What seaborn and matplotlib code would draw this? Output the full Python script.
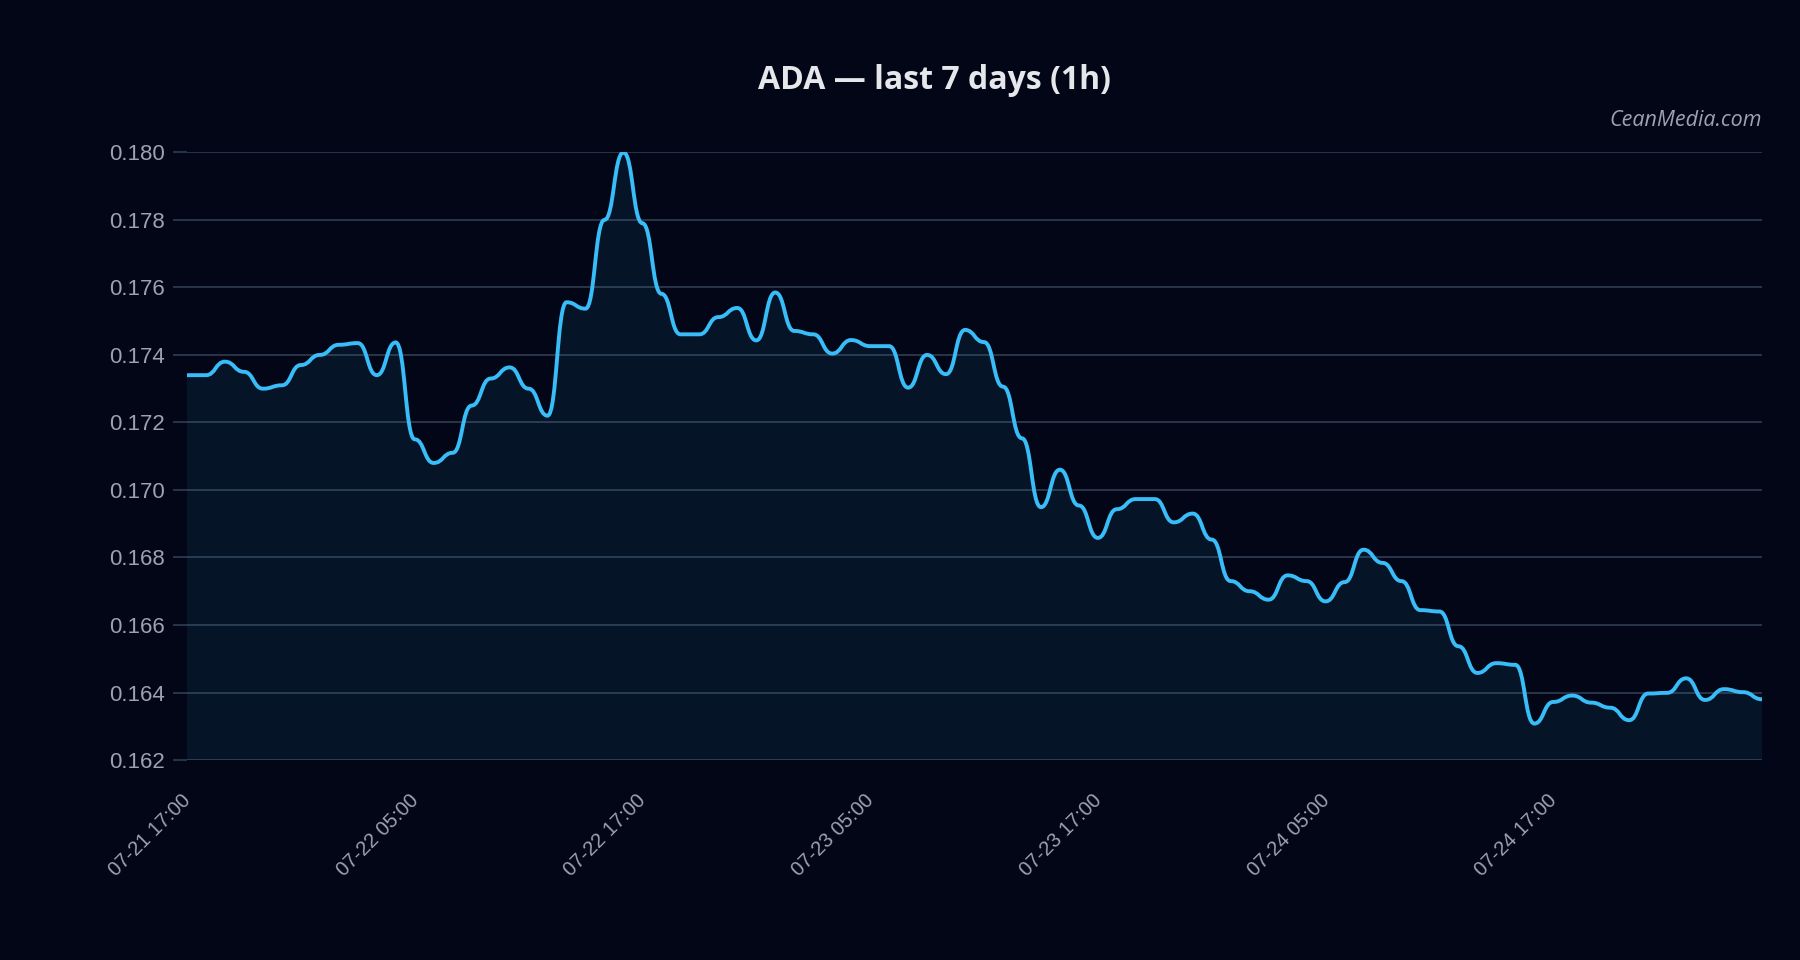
# Libraries
# =====================================================================
import numpy as np
import matplotlib
matplotlib.use("Agg")
import matplotlib.pyplot as plt
from matplotlib.path import Path
from matplotlib.patches import PathPatch
from matplotlib.transforms import ScaledTranslation
import seaborn as sns

# Data (ADA hourly close, 07-21 17:00 -> 07-25 04:00)
# =====================================================================
hours = np.arange(84)
price = [
    0.1734, 0.1734, 0.1738, 0.1735, 0.1730, 0.1731, 0.1737, 0.1740, 0.1743, 0.17435,
    0.1734, 0.17437, 0.1715, 0.1708, 0.1711, 0.1725, 0.1733, 0.17363, 0.1730, 0.1722,
    0.17556, 0.17537, 0.1780, 0.1800, 0.1779, 0.17581, 0.17461, 0.17461, 0.17512, 0.17539,
    0.17443, 0.17585, 0.17471, 0.17461, 0.17404, 0.17444, 0.17426, 0.17426, 0.17303, 0.1740,
    0.17343, 0.17474, 0.17438, 0.17306, 0.17153, 0.16949, 0.1706, 0.16954, 0.16858, 0.16943,
    0.16973, 0.16973, 0.16904, 0.1693, 0.16853, 0.1673, 0.1670, 0.16675, 0.16747, 0.1673,
    0.1667, 0.16727, 0.16823, 0.16784, 0.1673, 0.16644, 0.1664, 0.16537, 0.16458, 0.16487,
    0.16482, 0.16308, 0.16372, 0.16391, 0.16370, 0.16355, 0.16318, 0.16397, 0.16399, 0.16442,
    0.16378, 0.16410, 0.16401, 0.16380,
]
tick_hours = [0, 12, 24, 36, 48, 60, 72]
tick_labels = ['07-21 17:00', '07-22 05:00', '07-22 17:00', '07-23 05:00',
               '07-23 17:00', '07-24 05:00', '07-24 17:00']
y_ticks = [0.162, 0.164, 0.166, 0.168, 0.170, 0.172, 0.174, 0.176, 0.178, 0.180]

# Colors
bg = '#020617'
line_color = '#38bdf8'
grid_color = '#334155'
text_grey = '#9ca3af'


# Smooth "step" curve: flat tangent at every point, bezier between points
# =====================================================================
def smooth_path(x, y, base=None, k=0.5):
    verts, codes = [], []
    if base is not None:
        verts += [(x[0], base), (x[0], y[0])]
        codes += [Path.MOVETO, Path.LINETO]
    else:
        verts.append((x[0], y[0]))
        codes.append(Path.MOVETO)
    for i in range(len(x) - 1):
        dx = (x[i + 1] - x[i]) * k
        verts += [(x[i] + dx, y[i]), (x[i + 1] - dx, y[i + 1]), (x[i + 1], y[i + 1])]
        codes += [Path.CURVE4] * 3
    if base is not None:
        verts += [(x[-1], base), (x[0], base)]
        codes += [Path.LINETO, Path.CLOSEPOLY]
    return Path(verts, codes)


# Data Visualization
# =====================================================================
sns.set_theme(style="dark", rc={
    'figure.facecolor': bg,
    'axes.facecolor': bg,
    'savefig.facecolor': bg,
})
plt.rcParams['font.family'] = ['Liberation Sans', 'DejaVu Sans']

fig = plt.figure(figsize=(18, 9.6), dpi=100)
ax = fig.add_axes([0.1039, 0.2083, 0.875, 0.633])

ymin, ymax = y_ticks[0], y_ticks[-1]

# Area under the curve and the line itself
ax.add_patch(PathPatch(smooth_path(hours, price, base=ymin),
                       facecolor=line_color, alpha=0.08, edgecolor='none', zorder=2))
ax.add_patch(PathPatch(smooth_path(hours, price), facecolor='none',
                       edgecolor=line_color, linewidth=2.8, capstyle='round',
                       joinstyle='round', zorder=3))

ax.set_xlim(hours[0], hours[-1])
ax.set_ylim(ymin, ymax)

# Grid and ticks
ax.set_yticks(y_ticks)
ax.set_yticklabels([f'{v:.3f}' for v in y_ticks])
ax.set_xticks(tick_hours)
ax.set_xticklabels(tick_labels, rotation=45, ha='right', va='top', rotation_mode='anchor')
ax.yaxis.grid(True, color=grid_color, linewidth=1.1)
ax.xaxis.grid(False)
ax.set_axisbelow(True)
ax.tick_params(axis='y', colors=grid_color, labelcolor=text_grey, labelsize=16,
               length=10, width=1.1, pad=6, left=True)
ax.tick_params(axis='x', labelcolor=text_grey, labelsize=14.5, length=0, pad=22)
shift = ScaledTranslation(-0.06, 0, fig.dpi_scale_trans)
for lab in ax.get_xticklabels():
    lab.set_transform(lab.get_transform() + shift)
for sp in ax.spines.values():
    sp.set_visible(False)

# Title and watermark
fig.text(0.519, 0.916, 'ADA — last 7 days (1h)', ha='center', va='center',
         fontsize=23, fontweight='bold', color='#e5e7eb', family=['Open Sans', 'DejaVu Sans'])
fig.text(0.979, 0.874, 'CeanMedia.com', ha='right', va='center', fontsize=15.5,
         style='italic', color=text_grey, family=['Open Sans', 'DejaVu Sans'])

fig.savefig('out.png', dpi=100, facecolor=bg)
